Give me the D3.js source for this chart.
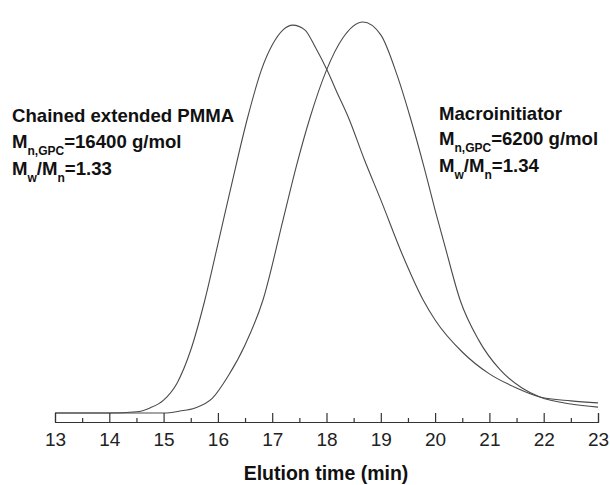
<!DOCTYPE html>
<html>
<head>
<meta charset="utf-8">
<script src="https://cdn.jsdelivr.net/npm/d3@7"></script>
<style>
  body { margin: 0; background: #fff; }
  svg { font-family: "Liberation Sans", Arial, sans-serif; }
  .lbl { font-weight: bold; font-size: 18.6px; fill: #111; }
  .axis text { font-size: 19px; fill: #222; }
</style>
</head>
<body>
<svg id="chart" width="610" height="485"></svg>
<script>
// elution time (min) and normalised detector signal
const pmmaTime = [13, 13.5, 14, 14.5, 14.75, 15, 15.25, 15.5, 15.76, 16, 16.25, 16.55, 16.8, 17, 17.2, 17.38,
    17.6, 17.8, 18.01, 18.2, 18.4, 18.7, 19, 19.4, 19.78, 20, 20.5, 21, 21.5, 21.93, 22.5, 23];
const pmmaSignal = [0, 0, 0, 0.003, 0.013, 0.033, 0.077, 0.161, 0.289, 0.432, 0.583, 0.757, 0.877, 0.941, 0.980, 0.992,
    0.980, 0.934, 0.877, 0.818, 0.757, 0.647, 0.545, 0.404, 0.289, 0.238, 0.156, 0.100, 0.064, 0.041, 0.031, 0.026];

const macroTime = [13, 14, 15, 15.3, 15.58, 15.9, 16.2, 16.5, 16.83, 17.2, 17.45, 17.7, 18, 18.3, 18.67,
    19, 19.3, 19.54, 19.8, 20, 20.2, 20.46, 20.8, 21.2, 21.6, 21.93, 22.5, 23];
const macroSignal = [0, 0, 0, 0.005, 0.013, 0.038, 0.097, 0.174, 0.289, 0.494, 0.634, 0.757, 0.877, 0.959, 1.0,
    0.967, 0.864, 0.757, 0.627, 0.519, 0.417, 0.289, 0.187, 0.110, 0.064, 0.041, 0.023, 0.015];

const majorTicks = [13, 14, 15, 16, 17, 18, 19, 20, 21, 22, 23];
const minorTicks = [13.5, 14.5, 15.5, 16.5, 17.5, 18.5, 19.5, 20.5, 21.5, 22.5];

const svg = d3.select('#chart');

const x = d3.scaleLinear().domain([13, 23]).range([55, 598]);
const y = d3.scaleLinear().domain([0, 1]).range([413, 22]);
const axisY = 422;

const line = d3.line()
    .x(d => x(d[0]))
    .y(d => y(d[1]))
    .curve(d3.curveMonotoneX);

const series = [
    d3.zip(pmmaTime, pmmaSignal),
    d3.zip(macroTime, macroSignal)
];

svg.selectAll('path.curve')
    .data(series)
    .join('path')
    .attr('class', 'curve')
    .attr('d', line)
    .attr('fill', 'none')
    .attr('stroke', '#4a4a4a')
    .attr('stroke-width', 1.1);

// x axis, ticks pointing up
svg.append('g')
    .attr('class', 'axis')
    .attr('transform', `translate(0,${axisY})`)
    .call(d3.axisBottom(x)
        .tickValues(majorTicks)
        .tickSizeInner(-9)
        .tickSizeOuter(-9)
        .tickPadding(11)
        .tickFormat(d3.format('d')));

svg.append('g')
    .attr('class', 'axis minor')
    .attr('transform', `translate(0,${axisY})`)
    .call(d3.axisBottom(x)
        .tickValues(minorTicks)
        .tickSize(-4)
        .tickFormat(''))
    .select('.domain').remove();

svg.selectAll('.axis').attr('font-family', null).attr('font-size', null);
svg.selectAll('.axis path, .axis line')
    .attr('stroke', '#333')
    .attr('stroke-width', 1.2);

svg.append('text')
    .attr('class', 'lbl')
    .attr('x', 326)
    .attr('y', 480)
    .attr('text-anchor', 'middle')
    .style('font-size', '19.5px')
    .text('Elution time (min)');

// annotation blocks
function block(x0, baselines, name, mn, pdi) {
    const g = svg.append('g');
    g.append('text').attr('class', 'lbl').attr('x', x0).attr('y', baselines[0]).text(name);

    const t2 = g.append('text').attr('class', 'lbl').attr('x', x0).attr('y', baselines[1]);
    t2.append('tspan').text('M');
    t2.append('tspan').attr('dy', 6.5).style('font-size', '12px').text('n,GPC');
    t2.append('tspan').attr('dy', -6.5).text('=' + mn + ' g/mol');

    const t3 = g.append('text').attr('class', 'lbl').attr('x', x0).attr('y', baselines[2]);
    t3.append('tspan').text('M');
    t3.append('tspan').attr('dy', 6.5).style('font-size', '12px').text('w');
    t3.append('tspan').attr('dy', -6.5).text('/M');
    t3.append('tspan').attr('dy', 6.5).style('font-size', '12px').text('n');
    t3.append('tspan').attr('dy', -6.5).text('=' + pdi);
}

block(12, [122, 148, 175], 'Chained extended PMMA', '16400', '1.33');
block(439, [120, 145, 172], 'Macroinitiator', '6200', '1.34');
</script>
</body>
</html>
